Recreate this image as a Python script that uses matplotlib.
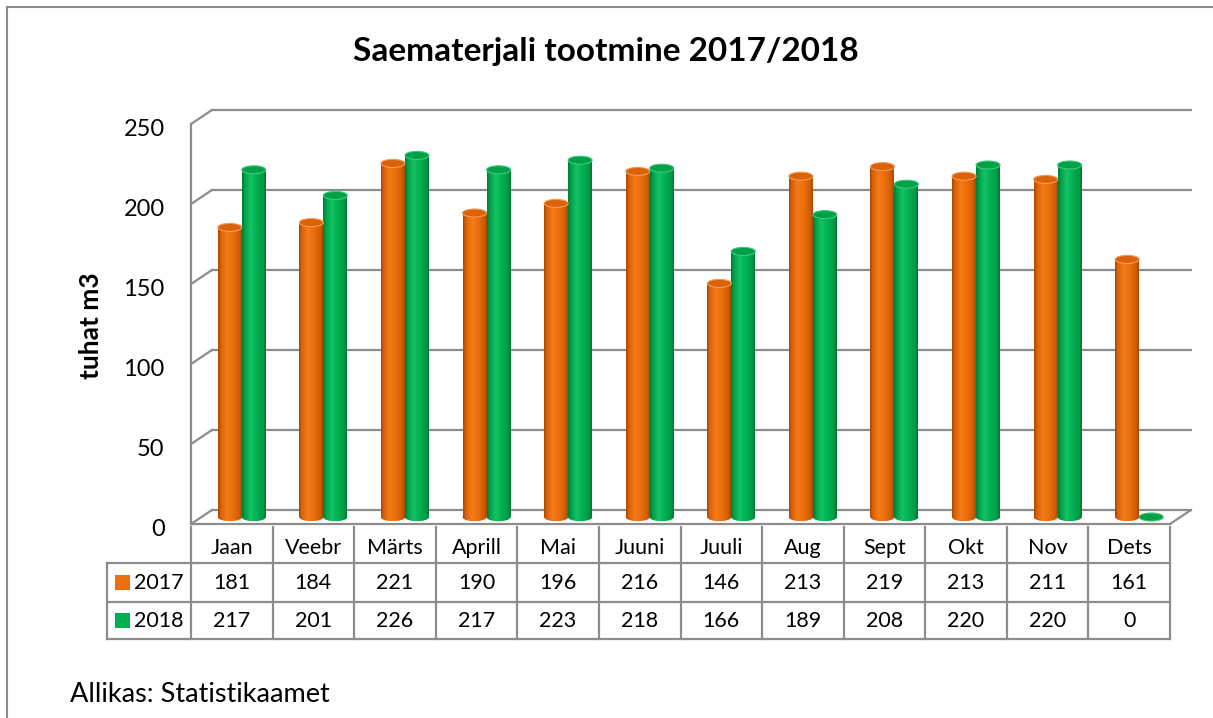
import numpy as np
import matplotlib
matplotlib.use('Agg')
import matplotlib.pyplot as plt
from matplotlib import transforms
from matplotlib.patches import Ellipse, Rectangle, ConnectionPatch
from matplotlib.lines import Line2D
from matplotlib.colors import LinearSegmentedColormap

plt.rcParams['font.family'] = ['Lato', 'DejaVu Sans']

# ---------------- data ----------------
months = ['Jaan', 'Veebr', 'Märts', 'Aprill', 'Mai', 'Juuni', 'Juuli',
          'Aug', 'Sept', 'Okt', 'Nov', 'Dets']
series_names = ['2017', '2018']
values_2017 = [181, 184, 221, 190, 196, 216, 146, 213, 219, 213, 211, 161]
values_2018 = [217, 201, 226, 217, 223, 218, 166, 189, 208, 220, 220, 0]
yticks = [0, 50, 100, 150, 200, 250]
title = 'Saematerjali tootmine 2017/2018'
ylabel = 'tuhat m3'
source = 'Allikas: Statistikaamet'

# ---------------- layout ----------------
W, H = 1213, 718
fig = plt.figure(figsize=(W / 100, H / 100), dpi=100)
fig.patch.set_facecolor('white')

X0, X1 = 191, 1170     # front plane, px
Y0, YT = 524, 124      # value 0 / 250 on front plane, px
ax = fig.add_axes([X0 / W, 1 - Y0 / H, (X1 - X0) / W, (Y0 - YT) / H])
ax.patch.set_visible(False)
for s in ax.spines.values():
    s.set_visible(False)

back = transforms.offset_copy(ax.transData, fig=fig, x=21, y=14, units='dots')
mid = transforms.offset_copy(ax.transData, fig=fig, x=10, y=7, units='dots')

gc = '#8c8c8c'
glw = 1.6
n = len(months)
xl, xr = -0.5, n - 0.5

# back wall gridlines + side diagonals
for v in yticks:
    ax.add_line(Line2D([xl, xr], [v, v], transform=back, color=gc, lw=glw,
                       clip_on=False, zorder=1))
    cp = ConnectionPatch((xl, v), (xl, v), coordsA=ax.transData, coordsB=back,
                         color=gc, lw=glw, zorder=1)
    ax.add_artist(cp)
# front left edge and floor
ax.add_line(Line2D([xl, xl], [0, yticks[-1]], transform=ax.transData, color=gc,
                   lw=glw, clip_on=False, zorder=1))
ax.add_line(Line2D([xl, xr], [0, 0], transform=ax.transData, color=gc,
                   lw=glw, clip_on=False, zorder=5))
ax.add_artist(ConnectionPatch((xr, 0), (xr, 0), coordsA=ax.transData,
                              coordsB=back, color=gc, lw=glw, zorder=5))

# ---------------- cylinders ----------------
w = 0.294
eh = 5.0
grad = np.linspace(0, 1, 128).reshape(1, -1)
styles = [
    dict(vals=values_2017, off=-w / 2, base='#EC6F0E', top='#DC620A', rim='#F59A55',
         cmap=LinearSegmentedColormap.from_list('o', [(0, '#A94800'), (0.12, '#D8620A'),
                                                      (0.35, '#F57A18'), (0.6, '#EE700F'),
                                                      (0.88, '#D05E06'), (1, '#A84800')])),
    dict(vals=values_2018, off=w / 2, base='#00B050', top='#00A048', rim='#3CCB7C',
         cmap=LinearSegmentedColormap.from_list('g', [(0, '#007A34'), (0.12, '#00A048'),
                                                      (0.35, '#14C264'), (0.6, '#00B252'),
                                                      (0.88, '#009A44'), (1, '#007534')])),
]
for st in styles:
    xs = np.arange(n) + st['off']
    bars = ax.bar(xs, st['vals'], width=w, color=st['base'], linewidth=0,
                  zorder=3, clip_on=False)
    for rect, v in zip(bars, st['vals']):
        rect.set_transform(mid)
        x0 = rect.get_x()
        xc = x0 + w / 2
        if v > 0:
            im = ax.imshow(grad, extent=(x0, x0 + w, 0, v), aspect='auto',
                           cmap=st['cmap'], transform=mid, zorder=3.1,
                           interpolation='bilinear')
            im.set_clip_path(rect)
        be = Ellipse((xc, 0), w, eh, transform=mid, facecolor=st['base'],
                     linewidth=0, zorder=2.9, clip_on=False)
        ax.add_patch(be)
        im2 = ax.imshow(grad, extent=(x0, x0 + w, -eh, eh), aspect='auto',
                        cmap=st['cmap'], transform=mid, zorder=3.0,
                        interpolation='bilinear')
        im2.set_clip_path(be)
        te = Ellipse((xc, v), w, eh, transform=mid, facecolor=st['top'],
                     edgecolor=st['rim'], linewidth=0.8, zorder=4, clip_on=False)
        ax.add_patch(te)

ax.set_xlim(xl, xr)
ax.set_ylim(0, yticks[-1])
ax.set_xticks([])
ax.set_yticks(yticks)
ax.set_yticklabels([str(t) for t in yticks])
ax.tick_params(axis='y', length=0, pad=19, labelsize=17)
shift = transforms.ScaledTranslation(0, -3 / 100, fig.dpi_scale_trans)
for lab in ax.get_yticklabels():
    lab.set_transform(lab.get_transform() + shift)
ax.set_ylabel(ylabel, fontsize=19, fontweight='bold')
ax.yaxis.set_label_coords((103 - X0) / (X1 - X0), 0.495)

# ---------------- data table ----------------
def fy(py):
    return 1 - py / H

tb = transforms.blended_transform_factory(ax.transData, fig.transFigure)
ta = transforms.blended_transform_factory(ax.transAxes, fig.transFigure)
tc = '#8c8c8c'
tlw = 1.6
for k in range(n + 1):
    ax.add_line(Line2D([k - 0.5, k - 0.5], [fy(527), fy(639)], transform=tb,
                       color=tc, lw=tlw, clip_on=False))
left_ax = (107 - X0) / (X1 - X0)
for py in [563, 602, 639]:
    ax.add_line(Line2D([left_ax, 1.0], [fy(py), fy(py)], transform=ta,
                       color=tc, lw=tlw, clip_on=False))
ax.add_line(Line2D([left_ax, left_ax], [fy(563), fy(639)], transform=ta,
                   color=tc, lw=tlw, clip_on=False))

tfs = 15.5
for i, m in enumerate(months):
    ax.text(i, fy(548), m, transform=tb, ha='center', va='center', fontsize=tfs)
row_y = [583, 621]
for vals, ry in zip([values_2017, values_2018], row_y):
    for i, v in enumerate(vals):
        ax.text(i, fy(ry), str(v), transform=tb, ha='center', va='center', fontsize=tfs)

for name, st, ry in zip(series_names, styles, row_y):
    fig.add_artist(Rectangle((115 / W, fy(ry + 7)), 15 / W, 15 / H,
                             transform=fig.transFigure, facecolor=st['base'],
                             edgecolor='none'))
    fig.text(134 / W, fy(ry), name, ha='left', va='center', fontsize=tfs)

# ---------------- titles / frame ----------------
fig.text(606 / W, fy(52), title, ha='center', va='center', fontsize=24,
         fontweight='bold')
fig.text(70 / W, fy(694), source, ha='left', va='center', fontsize=19.5)

fig.add_artist(Line2D([7 / W, 7 / W], [fy(7), 0], transform=fig.transFigure,
                      color='#8c8c8c', lw=1.5))
fig.add_artist(Line2D([7 / W, 1], [fy(7), fy(7)], transform=fig.transFigure,
                      color='#8c8c8c', lw=1.5))

fig.savefig('out.png', dpi=100, facecolor='white')
